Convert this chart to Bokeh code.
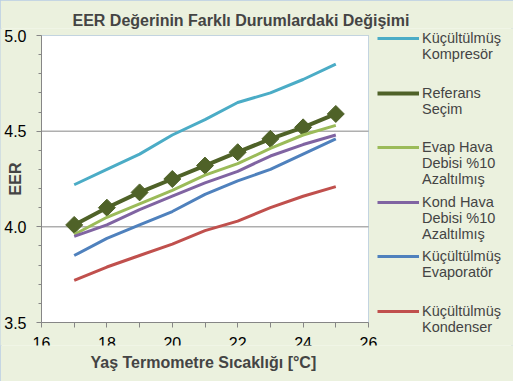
import math
from bokeh.plotting import figure
from bokeh.models import (Legend, LegendItem, Range1d, FixedTicker, Title,
                          NumeralTickFormatter, BoxAnnotation)
from bokeh.embed import file_html
from bokeh.resources import INLINE

# ---- data ----
temps = [17, 18, 19, 20, 21, 22, 23, 24, 25]
kompresor = [4.22, 4.30, 4.38, 4.48, 4.56, 4.65, 4.70, 4.77, 4.85]
referans = [4.01, 4.10, 4.18, 4.25, 4.32, 4.39, 4.46, 4.52, 4.59]
evap_hava = [3.96, 4.05, 4.12, 4.19, 4.27, 4.33, 4.41, 4.48, 4.53]
kond_hava = [3.95, 4.01, 4.09, 4.16, 4.23, 4.29, 4.37, 4.43, 4.48]
evaporator = [3.85, 3.94, 4.01, 4.08, 4.17, 4.24, 4.30, 4.38, 4.46]
kondenser = [3.72, 3.79, 3.85, 3.91, 3.98, 4.03, 4.10, 4.16, 4.21]

x_major = [16, 18, 20, 22, 24, 26]
x_minor = [17, 19, 21, 23, 25]
y_major = [3.5, 4.0, 4.5, 5.0]
y_minor = [3.6, 3.7, 3.8, 3.9, 4.1, 4.2, 4.3, 4.4, 4.6, 4.7, 4.8, 4.9]
y_grid = [4.0, 4.5]

labels = ["Küçültülmüş\nKompresör", "Referans\nSeçim",
          "Evap Hava\nDebisi %10\nAzaltılmış", "Kond Hava\nDebisi %10\nAzaltılmış",
          "Küçültülmüş\nEvaporatör", "Küçültülmüş\nKondenser"]
title_text = "EER Değerinin Farklı Durumlardaki Değişimi"
x_title = "Yaş Termometre Sıcaklığı [°C]"
y_title = "EER"

FONT = "Liberation Sans"
AXIS_GRAY = "#868686"
BG = "#EBF1DE"

x0, x1 = x_major[0], x_major[-1]
y0, y1 = y_major[0], y_major[-1]
# Plot area spans 41..368 px across and 35..322 px down.  The frame itself
# covers the whole chart width (0..513 px) and reaches down to 345 px so that
# the legend and axes drawn inside it are not clipped; axes are bounded to the
# plot area and pinned to its edges.
px_per_x = 327 / (x1 - x0)
px_per_y = 287 / (y1 - y0)
x_start = x0 - 41 / px_per_x
x_end = x0 + 472 / px_per_x
y_end = y1 + 7 / px_per_y
y_start = y0 - 23 / px_per_y

p = figure(width=513, height=381, x_range=Range1d(x_start, x_end),
           y_range=Range1d(y_start, y_end),
           output_backend="svg", toolbar_location=None,
           min_border_left=0, min_border_right=0, min_border_top=28, min_border_bottom=36,
           background_fill_color=BG, border_fill_color=BG, outline_line_color=None,
           styles={"outline": "2px solid #B9CDE5", "outline-offset": "-2px"})

# plot area (white, blue border at top / right)
p.add_layout(BoxAnnotation(left=x0, right=x1, bottom=y0, top=y1, fill_color="white",
                           fill_alpha=1, line_color="#4F81BD", line_width=1,
                           level="underlay"))

# title
p.title.text = title_text
p.title.text_font = FONT
p.title.text_font_size = "16px"
p.title.text_font_style = "bold"
p.title.align = "left"
p.title.offset = 72
p.title.standoff = 0

# axes
for ax in (p.xaxis[0], p.yaxis[0]):
    ax.axis_line_color = AXIS_GRAY
    ax.major_tick_line_color = AXIS_GRAY
    ax.minor_tick_line_color = AXIS_GRAY
    ax.major_tick_in = 0
    ax.minor_tick_in = 0
    ax.major_label_text_font = FONT
    ax.major_label_text_font_size = "16px"
    ax.major_label_text_color = "black"

p.xaxis.bounds = (x0, x1)
p.xaxis.fixed_location = y0
p.xaxis.ticker = FixedTicker(ticks=x_major, minor_ticks=x_minor)
p.xaxis.major_tick_out = 5
p.xaxis.minor_tick_out = 5
p.xaxis.major_label_standoff = 9

# x-axis title under the chart, aligned with the plot area
p.add_layout(Title(text=x_title, align="left", offset=90, standoff=12,
                   text_font=FONT, text_font_size="16px", text_font_style="bold"),
             "below")

p.yaxis.bounds = (y0, y1)
p.yaxis.fixed_location = x0
p.yaxis.ticker = FixedTicker(ticks=y_major, minor_ticks=y_minor)
p.yaxis.formatter = NumeralTickFormatter(format="0.0")
p.yaxis.major_tick_out = 5
p.yaxis.minor_tick_out = 3
p.yaxis.major_label_standoff = 10
p.yaxis.axis_label = y_title
p.yaxis.axis_label_text_font = FONT
p.yaxis.axis_label_text_font_size = "16px"
p.yaxis.axis_label_text_font_style = "bold"
p.yaxis.axis_label_standoff = -23

p.xgrid.visible = False
p.ygrid.visible = False
# horizontal grid lines, limited to the plot area
p.segment(x0=[x0] * len(y_grid), x1=[x1] * len(y_grid), y0=y_grid, y1=y_grid,
          line_color=AXIS_GRAY, line_width=1)

# series
r1 = p.line(temps, kompresor, line_color="#4BACC6", line_width=3)
r2 = p.line(temps, referans, line_color="#4F6228", line_width=4)
p.scatter(temps, referans, marker="square", angle=math.pi / 4, size=12,
          fill_color="#4F6228", line_color="#4F6228")
r2_key = p.scatter([], [], marker="diamond", size=8,
                   fill_color="#4F6228", line_color="#4F6228")
r3 = p.line(temps, evap_hava, line_color="#9BBB59", line_width=3)
r4 = p.line(temps, kond_hava, line_color="#8064A2", line_width=3)
r5 = p.line(temps, evaporator, line_color="#4F81BD", line_width=3)
r6 = p.line(temps, kondenser, line_color="#C0504D", line_width=3)

# legend: one legend per entry so that entries sit at an even pitch.
# Labels get leading blank lines so the key sits beside the first text line
# (Bokeh centres the key on the label block).
def keyed(label):
    n = label.count("\n")
    return "\n" * n + label

ITEM_H = 88
FRAME_BOTTOM = 345
renderers = [[r1], [r2, r2_key], [r3], [r4], [r5], [r6]]
for i, (lab, rs) in enumerate(zip(labels, renderers)):
    centre = 39 + 54.5 * i          # px from the top of the chart
    vy = FRAME_BOTTOM - (centre + ITEM_H / 2 - 1)
    lg = Legend(items=[LegendItem(label=keyed(lab), renderers=rs)],
                location=(377, vy), padding=0, margin=0, spacing=0,
                glyph_width=42, glyph_height=22, label_standoff=3, label_height=ITEM_H,
                label_text_font=FONT, label_text_font_size="14.5px",
                label_text_line_height=1.0,
                border_line_color=None, background_fill_alpha=0)
    p.add_layout(lg)

open("out.html", "w").write(file_html(p, INLINE))
